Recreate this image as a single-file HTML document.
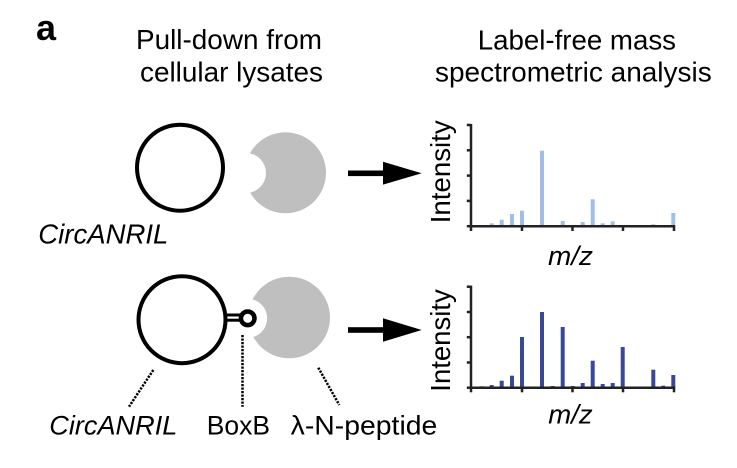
<!DOCTYPE html>
<html>
<head>
<meta charset="utf-8">
<style>
  html,body{margin:0;padding:0;background:#fff;}
  svg{display:block;}
  text{font-family:"Liberation Sans", Arial, sans-serif; fill:#000;}
</style>
</head>
<body>
<svg width="737" height="468" viewBox="0 0 737 468" xmlns="http://www.w3.org/2000/svg">
  <!-- Panel label -->
  <text x="36" y="40" font-size="36" font-weight="bold">a</text>

  <!-- Titles -->
  <text x="136" y="49" font-size="28" textLength="186" lengthAdjust="spacingAndGlyphs">Pull-down from</text>
  <text x="140" y="81.7" font-size="28" textLength="183" lengthAdjust="spacingAndGlyphs">cellular lysates</text>
  <text x="477.7" y="49.3" font-size="28" textLength="198.3" lengthAdjust="spacingAndGlyphs">Label-free mass</text>
  <text x="435" y="81.7" font-size="28" textLength="276.7" lengthAdjust="spacingAndGlyphs">spectrometric analysis</text>

  <!-- Top row: circRNA + protein -->
  <circle cx="180" cy="167.7" r="43" fill="none" stroke="#000" stroke-width="4"/>
  <circle cx="285.5" cy="172.8" r="40.5" fill="#bfbfbf"/>
  <circle cx="246" cy="173" r="20" fill="#fff"/>
  <text x="38.3" y="243.3" font-size="27.5" font-style="italic" textLength="130" lengthAdjust="spacingAndGlyphs">CircANRIL</text>

  <!-- Top arrow -->
  <rect x="348" y="170.5" width="38" height="5.6" fill="#000"/>
  <polygon points="383,161.7 421.7,173.3 383,184.6" fill="#000"/>

  <!-- Bottom row -->
  <circle cx="289.2" cy="317.5" r="40.8" fill="#bfbfbf"/>
  <circle cx="247.7" cy="318.3" r="19.5" fill="#fff"/>
  <circle cx="182" cy="319.7" r="43.5" fill="none" stroke="#000" stroke-width="4"/>
  <line x1="225" y1="315" x2="241" y2="315" stroke="#000" stroke-width="3"/>
  <line x1="225" y1="320.2" x2="241" y2="320.2" stroke="#000" stroke-width="3"/>
  <circle cx="247.7" cy="318.3" r="6.8" fill="#fff" stroke="#000" stroke-width="4.5"/>

  <!-- Dotted leader lines -->
  <line x1="153.3" y1="370" x2="129" y2="406.7" stroke="#000" stroke-width="2.5" stroke-dasharray="2.2 1.3"/>
  <line x1="242.5" y1="335" x2="242.5" y2="406.7" stroke="#000" stroke-width="2.5" stroke-dasharray="2.2 1.3"/>
  <line x1="318.3" y1="367.7" x2="339.3" y2="405" stroke="#000" stroke-width="2.5" stroke-dasharray="2.2 1.3"/>

  <!-- Bottom labels -->
  <text x="49.3" y="434.3" font-size="27" font-style="italic" textLength="128" lengthAdjust="spacingAndGlyphs">CircANRIL</text>
  <text x="206.7" y="434.3" font-size="27" textLength="63.3" lengthAdjust="spacingAndGlyphs">BoxB</text>
  <text x="290.7" y="434.3" font-size="27" textLength="146.6" lengthAdjust="spacingAndGlyphs">λ-N-peptide</text>

  <!-- Bottom arrow -->
  <rect x="348" y="327.2" width="38" height="5.6" fill="#000"/>
  <polygon points="383,318.2 421.7,330 383,341.7" fill="#000"/>

  <!-- Chart 1 -->
  <g>
    <text transform="translate(450,223.3) rotate(-90)" font-size="27.5" textLength="103" lengthAdjust="spacingAndGlyphs">Intensity</text>
    <g fill="#a3bee6">
      <rect x="489.7" y="223.3" width="4" height="2.9"/>
      <rect x="499.7" y="219.7" width="4" height="6.5"/>
      <rect x="510" y="214" width="4" height="12.2"/>
      <rect x="520" y="210.7" width="4" height="15.5"/>
      <rect x="540" y="150.7" width="4" height="75.5"/>
      <rect x="560.7" y="221" width="4" height="5.2"/>
      <rect x="580.7" y="222" width="4" height="4.2"/>
      <rect x="590.7" y="199.3" width="4" height="26.9"/>
      <rect x="600.7" y="223.3" width="4" height="2.9"/>
      <rect x="610.7" y="221.3" width="4" height="4.9"/>
      <rect x="651.3" y="224.3" width="4" height="1.9"/>
      <rect x="671.3" y="213" width="4" height="13.2"/>
    </g>
    <g stroke="#222" stroke-width="2.5" fill="none">
      <line x1="471" y1="124" x2="471" y2="227.4"/>
      <line x1="469.8" y1="226.2" x2="675.2" y2="226.2"/>
      <line x1="466.8" y1="125" x2="471" y2="125"/>
      <line x1="466.8" y1="150.3" x2="471" y2="150.3"/>
      <line x1="466.8" y1="175.6" x2="471" y2="175.6"/>
      <line x1="466.8" y1="200.9" x2="471" y2="200.9"/>
      <line x1="466.8" y1="226.2" x2="471" y2="226.2"/>
      <line x1="471" y1="226.2" x2="471" y2="231"/>
      <line x1="522" y1="226.2" x2="522" y2="231"/>
      <line x1="572.5" y1="226.2" x2="572.5" y2="231"/>
      <line x1="623" y1="226.2" x2="623" y2="231"/>
      <line x1="674" y1="226.2" x2="674" y2="231"/>
    </g>
    <text x="548" y="265" font-size="27" font-style="italic" textLength="45" lengthAdjust="spacingAndGlyphs">m/z</text>
  </g>

  <!-- Chart 2 -->
  <g>
    <text transform="translate(450,391.7) rotate(-90)" font-size="27.5" textLength="102.4" lengthAdjust="spacingAndGlyphs">Intensity</text>
    <g fill="#3a4898">
      <rect x="479.7" y="386.3" width="4" height="1.4"/>
      <rect x="489.7" y="385" width="4" height="2.7"/>
      <rect x="499.7" y="380.7" width="4" height="7"/>
      <rect x="510" y="375.7" width="4" height="12"/>
      <rect x="520" y="337" width="4" height="50.7"/>
      <rect x="540" y="312" width="4" height="75.7"/>
      <rect x="550.7" y="386" width="4" height="1.7"/>
      <rect x="560.7" y="327" width="4" height="60.7"/>
      <rect x="570.7" y="386" width="4" height="1.7"/>
      <rect x="580.7" y="383" width="4" height="4.7"/>
      <rect x="590.7" y="360.7" width="4" height="27"/>
      <rect x="600.7" y="384" width="4" height="3.7"/>
      <rect x="610.7" y="383" width="4" height="4.7"/>
      <rect x="620.7" y="347" width="4" height="40.7"/>
      <rect x="651.3" y="369.7" width="4" height="18"/>
      <rect x="661.3" y="385.7" width="4" height="2"/>
      <rect x="671.3" y="375" width="4" height="12.7"/>
    </g>
    <g stroke="#222" stroke-width="2.5" fill="none">
      <line x1="471" y1="285.6" x2="471" y2="388.9"/>
      <line x1="469.8" y1="387.7" x2="675.2" y2="387.7"/>
      <line x1="466.8" y1="286.7" x2="471" y2="286.7"/>
      <line x1="466.8" y1="312" x2="471" y2="312"/>
      <line x1="466.8" y1="337.2" x2="471" y2="337.2"/>
      <line x1="466.8" y1="362.5" x2="471" y2="362.5"/>
      <line x1="466.8" y1="387.7" x2="471" y2="387.7"/>
      <line x1="471" y1="387.7" x2="471" y2="392.3"/>
      <line x1="522" y1="387.7" x2="522" y2="392.3"/>
      <line x1="572.5" y1="387.7" x2="572.5" y2="392.3"/>
      <line x1="623" y1="387.7" x2="623" y2="392.3"/>
      <line x1="674" y1="387.7" x2="674" y2="392.3"/>
    </g>
    <text x="548.3" y="423.3" font-size="27" font-style="italic" textLength="44.4" lengthAdjust="spacingAndGlyphs">m/z</text>
  </g>
</svg>
</body>
</html>
